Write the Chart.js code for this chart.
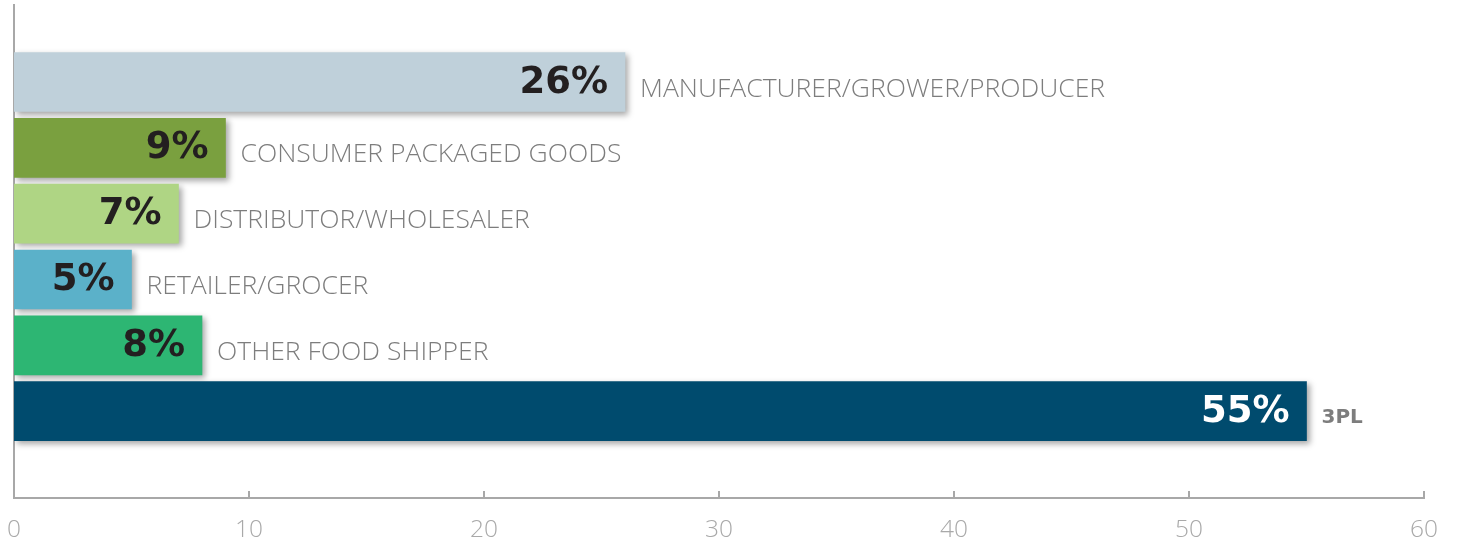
<!DOCTYPE html>
<html>
<head>
<meta charset="utf-8">
<script src="https://cdn.jsdelivr.net/npm/chart.js@4.4.1/dist/chart.umd.min.js"></script>
<style>
  html, body { margin: 0; padding: 0; background: #fff; }
  #wrap { width: 1460px; height: 541px; }
</style>
</head>
<body>
<div id="wrap"><canvas id="shipperChart"></canvas></div>
<script>
// données
const categories = ['MANUFACTURER/GROWER/PRODUCER', 'CONSUMER PACKAGED GOODS', 'DISTRIBUTOR/WHOLESALER', 'RETAILER/GROCER', 'OTHER FOOD SHIPPER', '3PL'];
const shares = [26, 9, 7, 5, 8, 55];
const barColors = ['#bfd0da', '#7aa03f', '#afd584', '#5bb1c9', '#2db673', '#004b6e'];
const xTickValues = [0, 10, 20, 30, 40, 50, 60];

// ombre portée des barres
const shadowPlugin = {
    id: 'barShadow',
    beforeDatasetsDraw(chart) {
        const ctx = chart.ctx;
        ctx.save();
        ctx.shadowColor = 'rgba(0, 0, 0, 0.35)';
        ctx.shadowBlur = 6;
        ctx.shadowOffsetX = 3;
        ctx.shadowOffsetY = 3;
    },
    afterDatasetsDraw(chart) {
        chart.ctx.restore();
    },
};

// petites graduations vers le haut sur l'axe x
const innerTicksPlugin = {
    id: 'innerTicks',
    afterDraw(chart) {
        const ctx = chart.ctx;
        const xScale = chart.scales.x;
        ctx.save();
        ctx.strokeStyle = '#a8a8a8';
        ctx.lineWidth = 2;
        xScale.ticks.forEach(t => {
            const px = Math.round(xScale.getPixelForValue(t.value));
            ctx.beginPath();
            ctx.moveTo(px, xScale.top);
            ctx.lineTo(px, xScale.top - 7);
            ctx.stroke();
        });
        ctx.restore();
    },
};

// pourcentages dans les barres + noms à droite
const labelPlugin = {
    id: 'barLabels',
    afterDatasetsDraw(chart) {
        const ctx = chart.ctx;
        const meta = chart.getDatasetMeta(0);
        meta.data.forEach((bar, i) => {
            const last = i === categories.length - 1;
            ctx.save();
            ctx.textBaseline = 'middle';
            ctx.textAlign = 'right';
            ctx.font = 'bold 37px "DejaVu Sans"';
            ctx.fillStyle = last ? '#ffffff' : '#231f20';
            ctx.fillText(shares[i] + '%', bar.x - 17, bar.y + 1);
            ctx.textAlign = 'left';
            ctx.font = last ? 'bold 20px "DejaVu Sans"' : '300 26.5px "Open Sans"';
            ctx.fillStyle = '#7d7d7d';
            ctx.fillText(categories[i], bar.x + 15, bar.y + 7);
            ctx.restore();
        });
    },
};

const chart = new Chart(document.querySelector('#shipperChart'), {
    type: 'bar',
    data: {
        datasets: [{
            data: shares.map((v, i) => ({ x: v, y: i })),
            backgroundColor: barColors,
            borderWidth: 0,
            barThickness: 59,
        }],
    },
    options: {
        indexAxis: 'y',
        responsive: true,
        maintainAspectRatio: false,
        animation: false,
        layout: { padding: { left: 14, right: 36, top: 5, bottom: 0 } },
        plugins: {
            legend: { display: false },
            tooltip: { enabled: false },
        },
        scales: {
            x: {
                type: 'linear',
                min: 0,
                max: 60,
                afterBuildTicks: (scale) => { scale.ticks = xTickValues.map(v => ({ value: v })); },
                afterFit: (scale) => { scale.height = 43; scale.paddingLeft = 0; },
                ticks: {
                    color: '#a9a9a9',
                    font: { family: 'Open Sans', size: 24.5, weight: '300' },
                    padding: 17,
                },
                grid: { display: false, drawTicks: false },
                border: { display: true, color: '#a8a8a8', width: 2 },
            },
            y: {
                type: 'linear',
                reverse: true,
                offset: false,
                bounds: 'data',
                min: -1.17,
                max: 6.32,
                afterBuildTicks: (scale) => { scale.ticks = categories.map((c, i) => ({ value: i })); },
                ticks: { display: false },
                grid: { display: false, drawTicks: false },
                border: { display: true, color: '#a8a8a8', width: 2 },
            },
        },
    },
    plugins: [shadowPlugin, labelPlugin, innerTicksPlugin],
});
</script>
</body>
</html>
